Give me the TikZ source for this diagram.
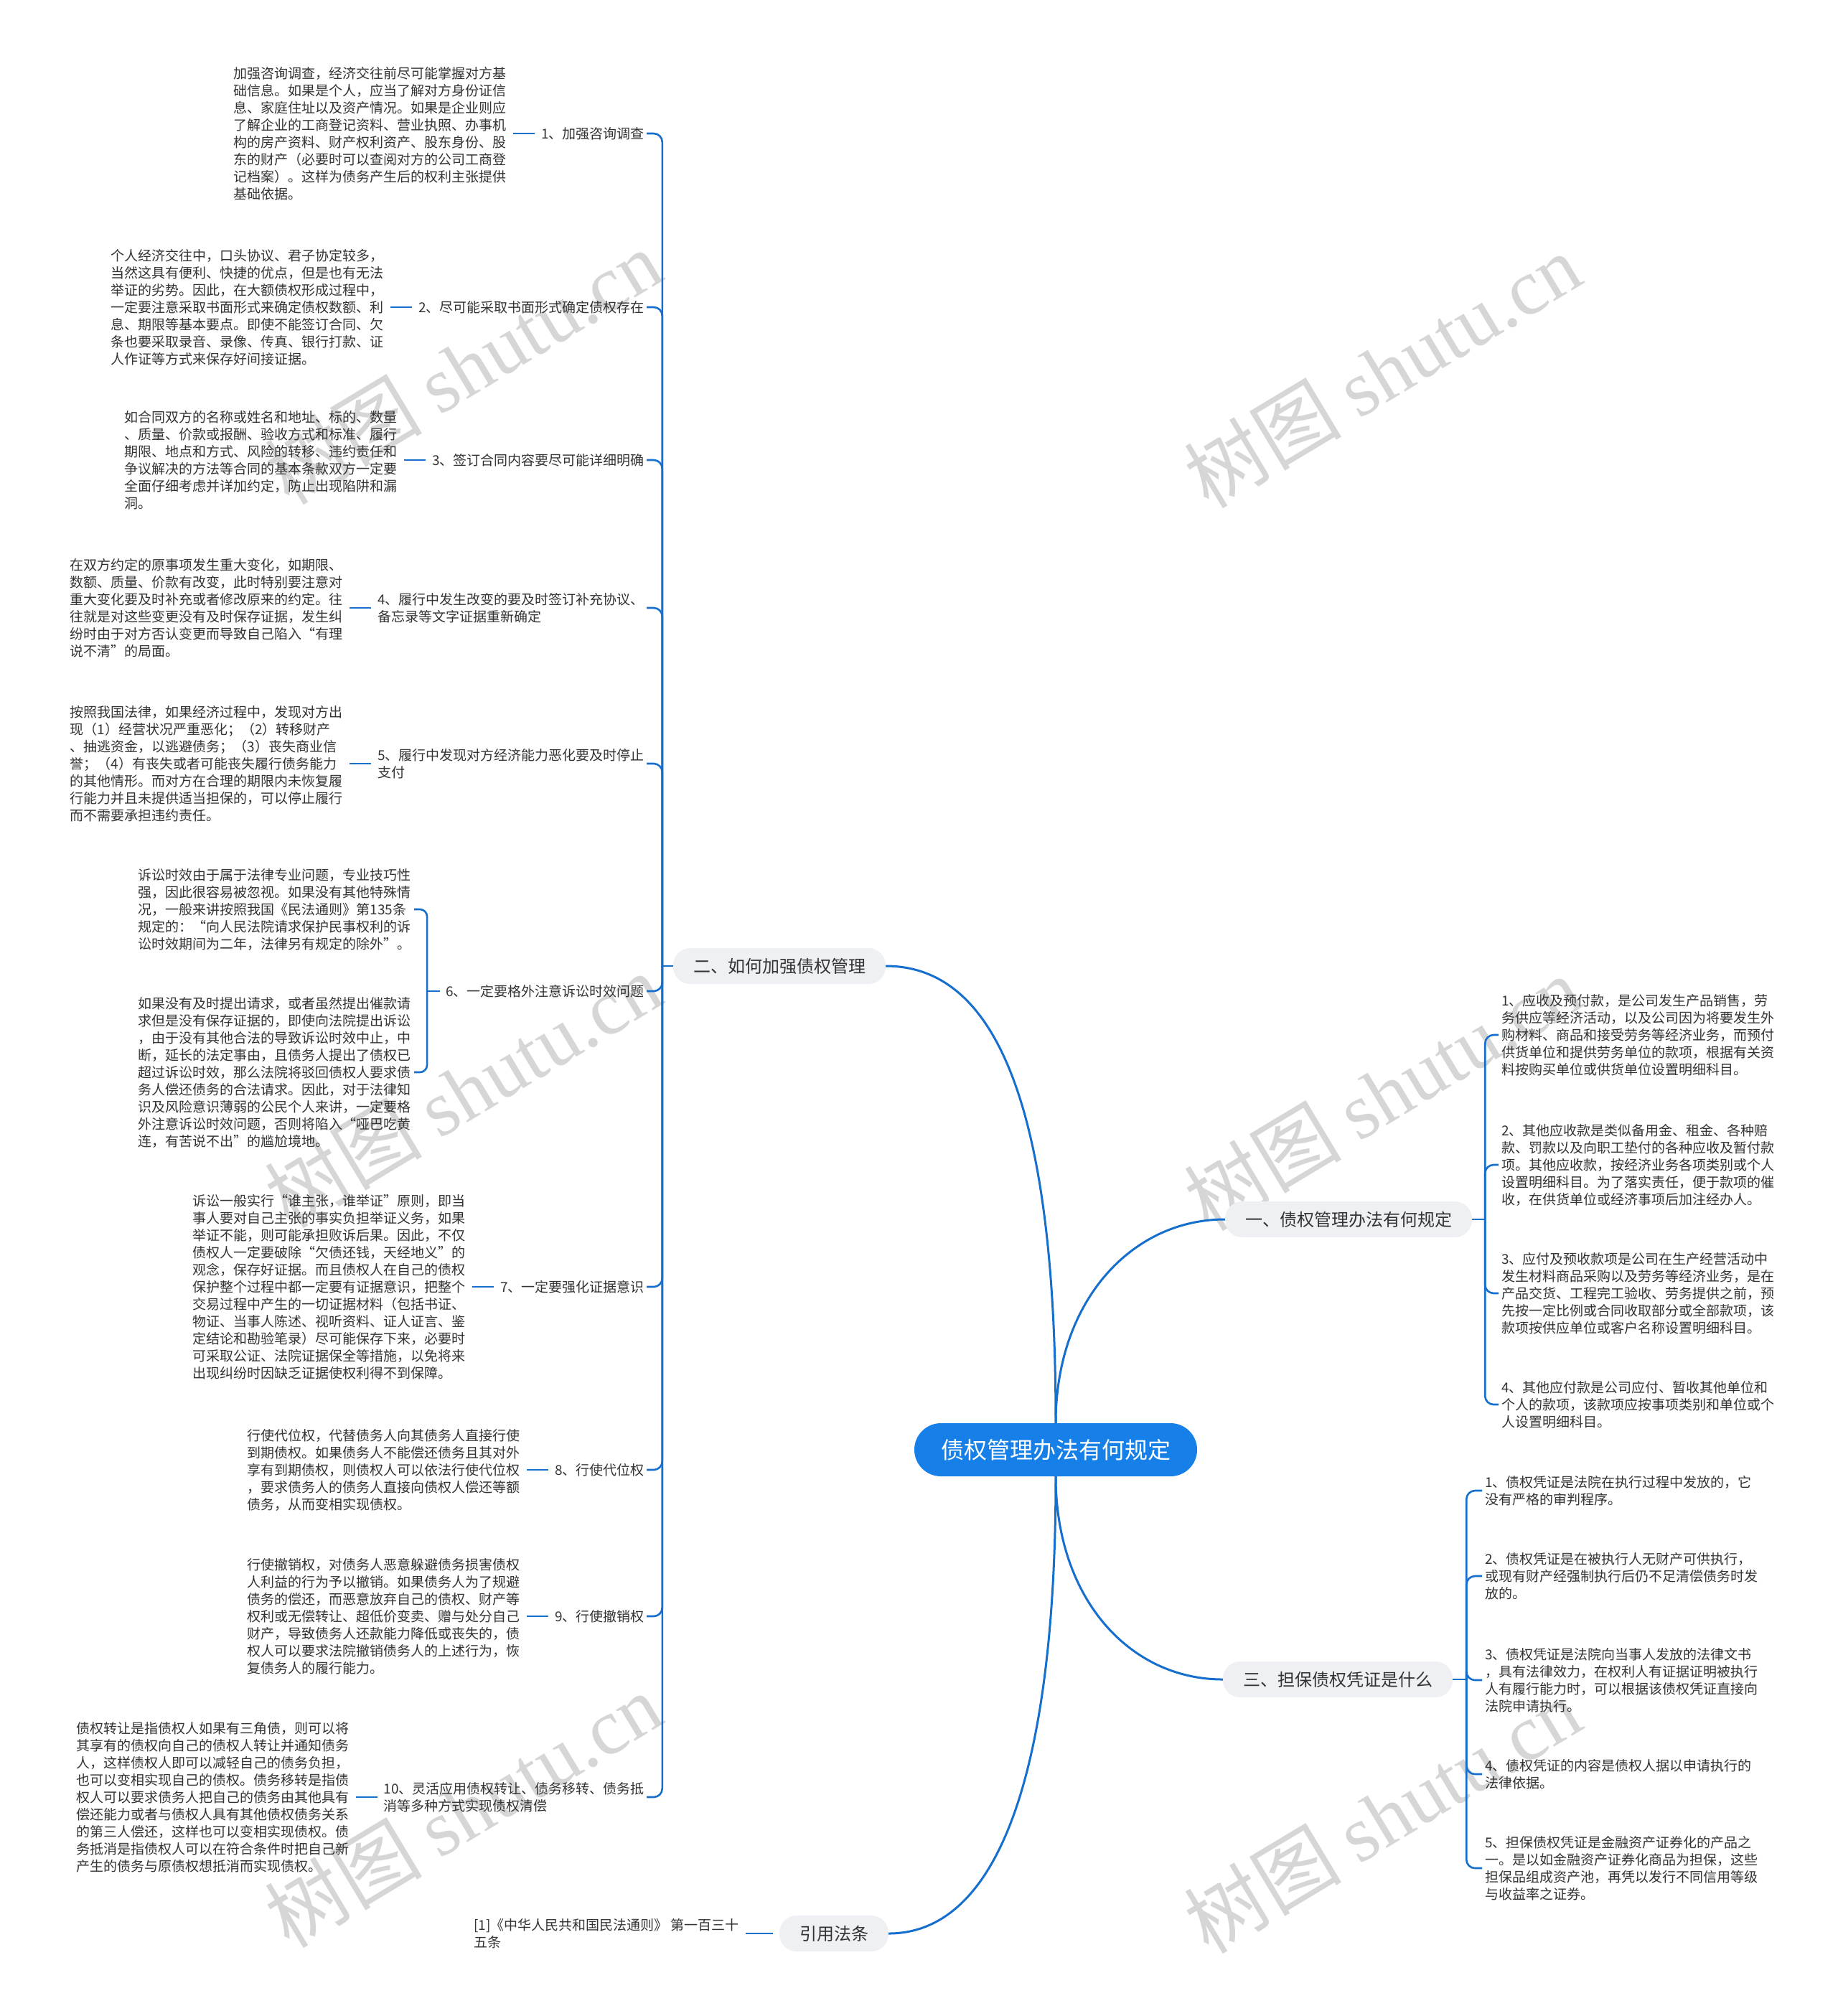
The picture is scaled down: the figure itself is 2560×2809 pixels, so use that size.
\documentclass[tikz,border=0pt]{standalone}
\usepackage{fontspec}
\setmainfont{Noto Sans CJK SC}
\newfontfamily\wmlatin{Liberation Serif}
\usetikzlibrary{positioning}
\definecolor{linkblue}{RGB}{22,110,205}
\definecolor{rootblue}{RGB}{22,128,232}
\definecolor{branchgray}{RGB}{238,240,243}
\definecolor{txt}{RGB}{51,51,51}
\definecolor{wm}{RGB}{214,214,214}
\begin{document}
\begin{tikzpicture}[x=1pt,y=-1pt,
  blk/.style={font=\fontsize{19}{24}\selectfont, text=txt, align=left, inner sep=0pt},
  lbl/.style={font=\fontsize{19}{24}\selectfont, text=txt, align=left, inner sep=0pt},
  branch/.style={font=\fontsize{24}{28}\selectfont, text=txt, fill=branchgray, rounded corners=24pt, inner xsep=28pt, inner ysep=0pt, minimum height=50pt},
  root/.style={font=\fontsize{32}{36}\selectfont, text=white, fill=rootblue, rounded corners=37pt, inner xsep=37pt, inner ysep=0pt, minimum height=74pt},
  conn/.style={draw=linkblue, line width=2.6pt},
  hook/.style={conn, rounded corners=12pt},
  stub/.style={conn, shorten <=9pt, shorten >=9pt},
  wmark/.style={text=wm, rotate=31, font=\fontsize{110}{110}\selectfont, inner sep=0pt}
]
\useasboundingbox (0,0) rectangle (2560,2809);
\fill[white] (0,0) rectangle (2560,2809);

% watermarks
\node[wmark] (w1) at (645,511) {树图 {\wmlatin shutu.cn}};
\node[wmark] (w2) at (1926,516) {树图 {\wmlatin shutu.cn}};
\node[wmark] (w3) at (645,1519) {树图 {\wmlatin shutu.cn}};
\node[wmark] (w4) at (1926,1523) {树图 {\wmlatin shutu.cn}};
\node[wmark] (w5) at (645,2522) {树图 {\wmlatin shutu.cn}};
\node[wmark] (w6) at (1926,2530) {树图 {\wmlatin shutu.cn}};

% root and branches
\node[root] (C) at (1471,2020) {债权管理办法有何规定};
\node[branch] (B2) at (1086,1346) {二、如何加强债权管理};
\node[branch] (B1) at (1879,1699) {一、债权管理办法有何规定};
\node[branch] (B3) at (1864,2340) {三、担保债权凭证是什么};
\node[branch] (B4) at (1162,2694) {引用法条};

\draw[conn, line width=3pt] (C.north) .. controls +(0,-450) and +(150,0) .. (B2.east);
\draw[conn, line width=3pt] (C.north) .. controls +(0,-170) and +(-130,0) .. (B1.west);
\draw[conn, line width=3pt] (C.south) .. controls +(0,170) and +(-130,0) .. (B3.west);
\draw[conn, line width=3pt] (C.south) .. controls +(0,420) and +(150,0) .. (B4.east);

% left branch labels
\node[lbl, anchor=east] (l1) at (898,186) {1、加强咨询调查};
\node[lbl, anchor=east] (l2) at (898,428) {2、尽可能采取书面形式确定债权存在};
\node[lbl, anchor=east] (l3) at (898,641) {3、签订合同内容要尽可能详细明确};
\node[lbl, anchor=east] (l4) at (898,847) {4、履行中发生改变的要及时签订补充协议、\\备忘录等文字证据重新确定};
\node[lbl, anchor=east] (l5) at (898,1064) {5、履行中发现对方经济能力恶化要及时停止\\支付};
\node[lbl, anchor=east] (l6) at (898,1381) {6、一定要格外注意诉讼时效问题};
\node[lbl, anchor=east] (l7) at (898,1793) {7、一定要强化证据意识};
\node[lbl, anchor=east] (l8) at (898,2048) {8、行使代位权};
\node[lbl, anchor=east] (l9) at (898,2252) {9、行使撤销权};
\node[lbl, anchor=east] (l10) at (898,2504) {10、灵活应用债权转让、债务移转、债务抵\\消等多种方式实现债权清偿};

% left blocks
\node[blk, left=48pt of l1] (b1) {加强咨询调查，经济交往前尽可能掌握对方基\\础信息。如果是个人，应当了解对方身份证信\\息、家庭住址以及资产情况。如果是企业则应\\了解企业的工商登记资料、营业执照、办事机\\构的房产资料、财产权利资产、股东身份、股\\东的财产（必要时可以查阅对方的公司工商登\\记档案）。这样为债务产生后的权利主张提供\\基础依据。};
\node[blk, left=48pt of l2] (b2) {个人经济交往中，口头协议、君子协定较多，\\当然这具有便利、快捷的优点，但是也有无法\\举证的劣势。因此，在大额债权形成过程中，\\一定要注意采取书面形式来确定债权数额、利\\息、期限等基本要点。即使不能签订合同、欠\\条也要采取录音、录像、传真、银行打款、证\\人作证等方式来保存好间接证据。};
\node[blk, left=48pt of l3] (b3) {如合同双方的名称或姓名和地址、标的、数量\\、质量、价款或报酬、验收方式和标准、履行\\期限、地点和方式、风险的转移、违约责任和\\争议解决的方法等合同的基本条款双方一定要\\全面仔细考虑并详加约定，防止出现陷阱和漏\\洞。};
\node[blk, left=48pt of l4] (b4) {在双方约定的原事项发生重大变化，如期限、\\数额、质量、价款有改变，此时特别要注意对\\重大变化要及时补充或者修改原来的约定。往\\往就是对这些变更没有及时保存证据，发生纠\\纷时由于对方否认变更而导致自己陷入“有理\\说不清”的局面。};
\node[blk, left=48pt of l5] (b5) {按照我国法律，如果经济过程中，发现对方出\\现（1）经营状况严重恶化；（2）转移财产\\、抽逃资金，以逃避债务；（3）丧失商业信\\誉；（4）有丧失或者可能丧失履行债务能力\\的其他情形。而对方在合理的期限内未恢复履\\行能力并且未提供适当担保的，可以停止履行\\而不需要承担违约责任。};
\node[blk, anchor=east] (b6a) at (573,1267) {诉讼时效由于属于法律专业问题，专业技巧性\\强，因此很容易被忽视。如果没有其他特殊情\\况，一般来讲按照我国《民法通则》第135条\\规定的：“向人民法院请求保护民事权利的诉\\讼时效期间为二年，法律另有规定的除外”。};
\node[blk, anchor=east] (b6b) at (573,1494) {如果没有及时提出请求，或者虽然提出催款请\\求但是没有保存证据的，即使向法院提出诉讼\\，由于没有其他合法的导致诉讼时效中止，中\\断，延长的法定事由，且债务人提出了债权已\\超过诉讼时效，那么法院将驳回债权人要求债\\务人偿还债务的合法请求。因此，对于法律知\\识及风险意识薄弱的公民个人来讲，一定要格\\外注意诉讼时效问题，否则将陷入“哑巴吃黄\\连，有苦说不出”的尴尬境地。};
\node[blk, left=48pt of l7] (b7) {诉讼一般实行“谁主张，谁举证”原则，即当\\事人要对自己主张的事实负担举证义务，如果\\举证不能，则可能承担败诉后果。因此，不仅\\债权人一定要破除“欠债还钱，天经地义”的\\观念，保存好证据。而且债权人在自己的债权\\保护整个过程中都一定要有证据意识，把整个\\交易过程中产生的一切证据材料（包括书证、\\物证、当事人陈述、视听资料、证人证言、鉴\\定结论和勘验笔录）尽可能保存下来，必要时\\可采取公证、法院证据保全等措施，以免将来\\出现纠纷时因缺乏证据使权利得不到保障。};
\node[blk, left=48pt of l8] (b8) {行使代位权，代替债务人向其债务人直接行使\\到期债权。如果债务人不能偿还债务且其对外\\享有到期债权，则债权人可以依法行使代位权\\，要求债务人的债务人直接向债权人偿还等额\\债务，从而变相实现债权。};
\node[blk, left=48pt of l9] (b9) {行使撤销权，对债务人恶意躲避债务损害债权\\人利益的行为予以撤销。如果债务人为了规避\\债务的偿还，而恶意放弃自己的债权、财产等\\权利或无偿转让、超低价变卖、赠与处分自己\\财产，导致债务人还款能力降低或丧失的，债\\权人可以要求法院撤销债务人的上述行为，恢\\复债务人的履行能力。};
\node[blk, left=48pt of l10] (b10) {债权转让是指债权人如果有三角债，则可以将\\其享有的债权向自己的债权人转让并通知债务\\人，这样债权人即可以减轻自己的债务负担，\\也可以变相实现自己的债权。债务移转是指债\\权人可以要求债务人把自己的债务由其他具有\\偿还能力或者与债权人具有其他债权债务关系\\的第三人偿还，这样也可以变相实现债权。债\\务抵消是指债权人可以在符合条件时把自己新\\产生的债务与原债权想抵消而实现债权。};

% left connectors
\coordinate (j2) at ([xshift=-15pt]B2.west);
\draw[conn] (B2.west) -- (j2);
\foreach \n in {l1,l2,l3,l4,l5,l6,l7,l8,l9,l10}{
  \draw[hook] (j2) |- ([xshift=3pt]\n.east);
}
\foreach \n in {1,2,3,4,5,7,8,9,10}{
  \draw[stub] (b\n.east) -- (l\n.west);
}
\coordinate (j6) at ([xshift=-26pt]l6.west);
\draw[conn] ([xshift=-8pt]l6.west) -- (j6);
\draw[hook, rounded corners=10pt] (j6) |- ([xshift=4pt]b6a.east);
\draw[hook, rounded corners=10pt] (j6) |- ([xshift=4pt]b6b.east);

% right branch 1
\node[blk, anchor=west] (r1) at (2092,1442) {1、应收及预付款，是公司发生产品销售，劳\\务供应等经济活动，以及公司因为将要发生外\\购材料、商品和接受劳务等经济业务，而预付\\供货单位和提供劳务单位的款项，根据有关资\\料按购买单位或供货单位设置明细科目。};
\node[blk, anchor=west] (r2) at (2092,1623) {2、其他应收款是类似备用金、租金、各种赔\\款、罚款以及向职工垫付的各种应收及暂付款\\项。其他应收款，按经济业务各项类别或个人\\设置明细科目。为了落实责任，便于款项的催\\收，在供货单位或经济事项后加注经办人。};
\node[blk, anchor=west] (r3) at (2092,1802) {3、应付及预收款项是公司在生产经营活动中\\发生材料商品采购以及劳务等经济业务，是在\\产品交货、工程完工验收、劳务提供之前，预\\先按一定比例或合同收取部分或全部款项，该\\款项按供应单位或客户名称设置明细科目。};
\node[blk, anchor=west] (r4) at (2092,1957) {4、其他应付款是公司应付、暂收其他单位和\\个人的款项，该款项应按事项类别和单位或个\\人设置明细科目。};
\coordinate (j1) at ([xshift=18pt]B1.east);
\draw[conn] (B1.east) -- (j1);
\foreach \n in {r1,r2,r3,r4}{
  \draw[hook] (j1) |- ([xshift=-4pt]\n.west);
}

% right branch 3
\node[blk, anchor=west] (s1) at (2069,2077) {1、债权凭证是法院在执行过程中发放的，它\\没有严格的审判程序。};
\node[blk, anchor=west] (s2) at (2069,2196) {2、债权凭证是在被执行人无财产可供执行，\\或现有财产经强制执行后仍不足清偿债务时发\\放的。};
\node[blk, anchor=west] (s3) at (2069,2341) {3、债权凭证是法院向当事人发放的法律文书\\，具有法律效力，在权利人有证据证明被执行\\人有履行能力时，可以根据该债权凭证直接向\\法院申请执行。};
\node[blk, anchor=west] (s4) at (2069,2472) {4、债权凭证的内容是债权人据以申请执行的\\法律依据。};
\node[blk, anchor=west] (s5) at (2069,2603) {5、担保债权凭证是金融资产证券化的产品之\\一。是以如金融资产证券化商品为担保，这些\\担保品组成资产池，再凭以发行不同信用等级\\与收益率之证券。};
\coordinate (j3) at ([xshift=19pt]B3.east);
\draw[conn] (B3.east) -- (j3);
\foreach \n in {s1,s2,s3,s4,s5}{
  \draw[hook] (j3) |- ([xshift=-4pt]\n.west);
}

% reference branch
\node[blk, anchor=east] (rf) at (1030,2694) {[1]《中华人民共和国民法通则》 第一百三十\\五条};
\draw[stub] (rf.east) -- (B4.west);
\end{tikzpicture}
\end{document}
